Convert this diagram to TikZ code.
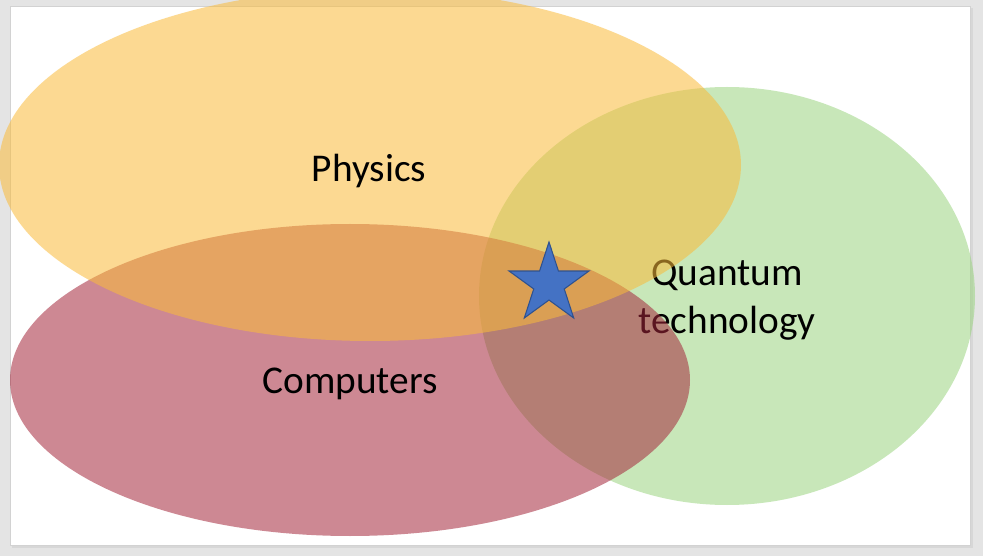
\documentclass[tikz,border=0pt]{standalone}
\usepackage{fontspec}
\setmainfont{Carlito}
\usetikzlibrary{shapes.geometric}

\definecolor{pagegray}{RGB}{228,228,228}
\definecolor{slideline}{RGB}{210,210,210}
\definecolor{physicsorange}{RGB}{250,187,58}
\definecolor{computersred}{RGB}{164,40,60}
\definecolor{quantumgreen}{RGB}{155,213,128}
\definecolor{starblue}{RGB}{68,114,196}
\definecolor{starline}{RGB}{47,82,143}

\tikzset{
  blob/.style={opacity=0.55},
  label/.style={font=\fontsize{29.5}{35.5}\selectfont, text=black, align=center},
}

\begin{document}
\begin{tikzpicture}[x=0.75pt,y=-0.75pt]
\useasboundingbox (0,0) rectangle (983,556);
\clip (0,0) rectangle (983,556);

\fill[pagegray] (0,0) rectangle (983,556); %background
\fill[slideline!70!pagegray] (12,8) rectangle (973,548); %shadow
\draw[slideline,fill=white] (10,6) rectangle (970,545); %slide

\fill[blob,quantumgreen] (727,296) ellipse (248 and 209); %quantum
\node[label] (quantum) at (727,300) {Quantum\\technology};

\fill[blob,computersred] (350,380) ellipse (340 and 156); %computers
\node[label] (computers) at (350,384) {Computers};

\fill[blob,physicsorange] (370,165) ellipse (371 and 176); %physics
\node[label] (physics) at (369,171) {Physics};

\node[star,star points=5,star point ratio=2.618,minimum size=63pt,inner sep=0pt,
      fill=starblue,draw=starline,line width=0.8pt] (spot) at (549,284) {};

\end{tikzpicture}
\end{document}
